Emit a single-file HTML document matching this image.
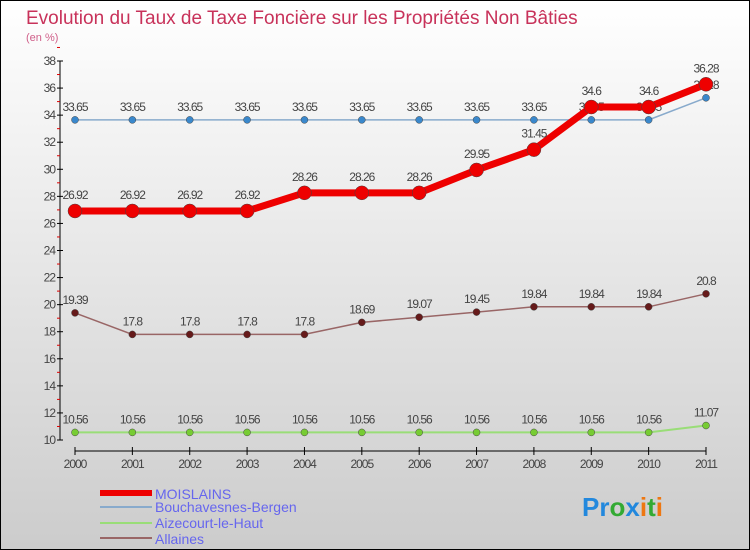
<!DOCTYPE html>
<html><head><meta charset="utf-8"><style>
body{margin:0;}
#wrap{width:750px;height:550px;position:relative;overflow:hidden;}
svg text{font-family:"Liberation Sans",sans-serif;}
</style></head><body>
<div id="wrap">
<svg id="chart" width="750" height="550" xmlns="http://www.w3.org/2000/svg">
<defs><linearGradient id="bg" x1="0" y1="0" x2="0" y2="1"><stop offset="0" stop-color="#ffffff"/><stop offset="1" stop-color="#cccccc"/></linearGradient></defs>
<rect x="0.5" y="0.5" width="749" height="549" fill="url(#bg)" stroke="#000"/>
<text x="26" y="24" font-size="19" fill="#c8325a">Evolution du Taux de Taxe Foncière sur les Propriétés Non Bâties</text>
<text x="26" y="41" font-size="11" fill="#d0608a">(en %)</text>
<g id="axes"></g>
<g id="series"></g>
<g id="legend">
<rect x="100" y="490" width="52" height="6" fill="#ee0000"/>
<text x="155" y="499" font-size="14" fill="#6666ee">MOISLAINS</text>
<rect x="100" y="506" width="52" height="2" fill="#88aacc"/>
<text x="155" y="512" font-size="14" fill="#6666ee">Bouchavesnes-Bergen</text>
<rect x="100" y="522" width="52" height="2" fill="#99dd77"/>
<text x="155" y="528" font-size="14" fill="#6666ee">Aizecourt-le-Haut</text>
<rect x="100" y="537" width="52" height="2" fill="#996666"/>
<text x="155" y="544" font-size="14" fill="#6666ee">Allaines</text>
</g>
<text x="582" y="516" font-size="26" font-weight="bold"><tspan fill="#2288dd">Pr</tspan><tspan fill="#33aa33">o</tspan><tspan fill="#2288dd">x</tspan><tspan fill="#ee7711">i</tspan><tspan fill="#33aa33">t</tspan><tspan fill="#ee7711">i</tspan></text>
</svg>
</div>
<script>
const years=["2000","2001","2002","2003","2004","2005","2006","2007","2008","2009","2010","2011"];
const yTicks=[10,12,14,16,18,20,22,24,26,28,30,32,34,36,38];
const moislains=[26.92,26.92,26.92,26.92,28.26,28.26,28.26,29.95,31.45,34.6,34.6,36.28];
const bouchavesnes=[33.65,33.65,33.65,33.65,33.65,33.65,33.65,33.65,33.65,33.65,33.65,35.28];
const aizecourt=[10.56,10.56,10.56,10.56,10.56,10.56,10.56,10.56,10.56,10.56,10.56,11.07];
const allaines=[19.39,17.8,17.8,17.8,17.8,18.69,19.07,19.45,19.84,19.84,19.84,20.8];
const NS="http://www.w3.org/2000/svg";
const x=i=>75+i*(706-75)/11;
const y=v=>440-(v-10)*(440-61)/28;
function mk(t,a,p){const e=document.createElementNS(NS,t);for(const k in a)e.setAttribute(k,a[k]);p.appendChild(e);return e;}
const ax=document.getElementById('axes');
const yl=mk('line',{x1:60,y1:61,x2:60,y2:440,stroke:'#000'},ax);


yTicks.forEach(v=>{
 mk('line',{x1:57,y1:y(v),x2:63,y2:y(v),stroke:'#000'},ax);
 mk('line',{x1:57,y1:y(v+1),x2:60,y2:y(v+1),stroke:'#d00'},ax);
 const t=mk('text',{x:55,y:y(v)+4,'font-size':12,fill:'#444','text-anchor':'end','letter-spacing':'-1'},ax);
 t.textContent=v;
 
 
});
const xl=mk('line',{x1:75,y1:451,x2:706,y2:451,stroke:'#000'},ax);


years.forEach((yr,i)=>{
 mk('line',{x1:x(i),y1:447,x2:x(i),y2:455,stroke:'#000'},ax);
 const t=mk('text',{x:x(i),y:468,'font-size':12,fill:'#444','text-anchor':'middle','letter-spacing':'-1'},ax);
 t.textContent=yr;
 
 
});
const sg=document.getElementById('series');
function series(vals,name,color,w,r,dot,labelDy){
 const g=mk('g',{},sg);
 
 
 const pl=mk('polyline',{points:vals.map((v,i)=>x(i)+','+y(v)).join(' '),fill:'none',stroke:color,'stroke-width':w,'stroke-linejoin':'round'},g);
 
 
 vals.forEach((v,i)=>{
  const c=mk('circle',{cx:x(i),cy:y(v),r:r,fill:dot,stroke:'#444','stroke-width':0.5},g);
  
  
  const t=mk('text',{x:x(i),y:y(v)+labelDy,'font-size':12,fill:'#444','text-anchor':'middle','letter-spacing':'-1'},g);
  t.textContent=v;
  
  
 });
}
series(aizecourt,'aizecourt','#99dd77',2,3.5,'#77cc33',-9);
series(allaines,'allaines','#996666',1.5,3.5,'#661a1a',-9);
series(bouchavesnes,'bouchavesnes','#88aacc',1.5,3.5,'#3a88cc',-9);
series(moislains,'moislains','#ee0000',7,7,'#ee0000',-12);
</script>
</body></html>
